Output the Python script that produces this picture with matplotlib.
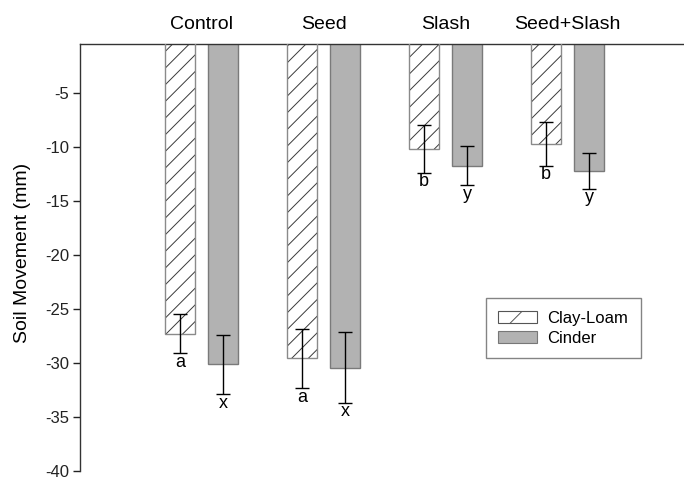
import matplotlib
matplotlib.use("Agg")
import matplotlib.pyplot as plt
from matplotlib.patches import Patch
import numpy as np

plt.rcParams['font.family'] = ['Liberation Sans', 'DejaVu Sans']
plt.rcParams['hatch.linewidth'] = 0.7

categories = ["Control", "Seed", "Slash", "Seed+Slash"]
clay_loam = [-27.3, -29.6, -10.2, -9.75]
clay_err = [1.85, 2.75, 2.2, 2.0]
cinder = [-30.15, -30.45, -11.75, -12.25]
cinder_err = [2.75, 3.25, 1.8, 1.65]
clay_letters = ["a", "a", "b", "b"]
cinder_letters = ["x", "x", "y", "y"]
yticks = [-5, -10, -15, -20, -25, -30, -35, -40]

W, H = 684, 479
fig = plt.figure(figsize=(W / 100, H / 100), dpi=100)
left_px, top_px, bot_px = 80, 44, 470.7
right_px = W + 40
ax = fig.add_axes([left_px / W, 1 - bot_px / H, (right_px - left_px) / W, (bot_px - top_px) / H])

x = np.arange(len(categories))
px_per_unit = 122.0
off = 21.6 / px_per_unit
bw = 30 / px_per_unit

hatch_col = '#3a3a3a'
# clay-loam bars: hatch then outline
ax.bar(x - off, clay_loam, width=bw, color='white', edgecolor=hatch_col, linewidth=0, hatch='//', zorder=2)
ax.bar(x - off, clay_loam, width=bw, fill=False, edgecolor='#8a8a8a', linewidth=1.0, zorder=3)
ax.bar(x + off, cinder, width=bw, color='#b2b2b2', edgecolor='#7a7a7a', linewidth=1.0, zorder=2)

ekw = dict(fmt='none', ecolor='black', elinewidth=1.0, capsize=4.8, capthick=1.0, zorder=4)
ax.errorbar(x - off, clay_loam, yerr=clay_err, **ekw)
ax.errorbar(x + off, cinder, yerr=cinder_err, **ekw)

for xi, v, e, t in zip(x - off, clay_loam, clay_err, clay_letters):
    ax.annotate(t, (xi, v - e), xytext=(0, -0.5), textcoords='offset points',
                ha='center', va='top', fontsize=13)
for xi, v, e, t in zip(x + off, cinder, cinder_err, cinder_letters):
    ax.annotate(t, (xi, v - e), xytext=(0, -0.5), textcoords='offset points',
                ha='center', va='top', fontsize=13)

ax.set_ylim(-40, -0.5)
ax.set_xlim(-(201.8 - left_px) / px_per_unit, (right_px - 201.8) / px_per_unit)
ax.set_yticks(yticks)
ax.set_yticklabels([str(t) for t in yticks], fontsize=12)
ax.tick_params(axis='y', direction='out', length=5, width=1, pad=3, colors='#222222')

ax.xaxis.tick_top()
ax.set_xticks(x)
ax.set_xticklabels(categories, fontsize=14)
ax.tick_params(axis='x', length=0, pad=8)

for s in ['bottom', 'right']:
    ax.spines[s].set_visible(False)
for s in ['left', 'top']:
    ax.spines[s].set_color('#333333')
    ax.spines[s].set_linewidth(1.0)

fig.text(23 / W, 1 - 253 / H, "Soil Movement (mm)", rotation=90, ha='center', va='center', fontsize=14)

handles = [Patch(facecolor='white', edgecolor='#555555', hatch='/', linewidth=0.8, label='Clay-Loam'),
           Patch(facecolor='#b2b2b2', edgecolor='#777777', linewidth=0.8, label='Cinder')]
leg = fig.legend(handles=handles, loc='upper left', bbox_to_anchor=(485.7 / W, 1 - 298.3 / H),
                 fontsize=12, frameon=True, fancybox=False, edgecolor='#666666',
                 handlelength=2.3, handleheight=0.75, handletextpad=0.65, labelspacing=0.3,
                 borderpad=0.75, borderaxespad=0)
leg.get_frame().set_linewidth(1.0)

fig.savefig("out.png", dpi=100)
